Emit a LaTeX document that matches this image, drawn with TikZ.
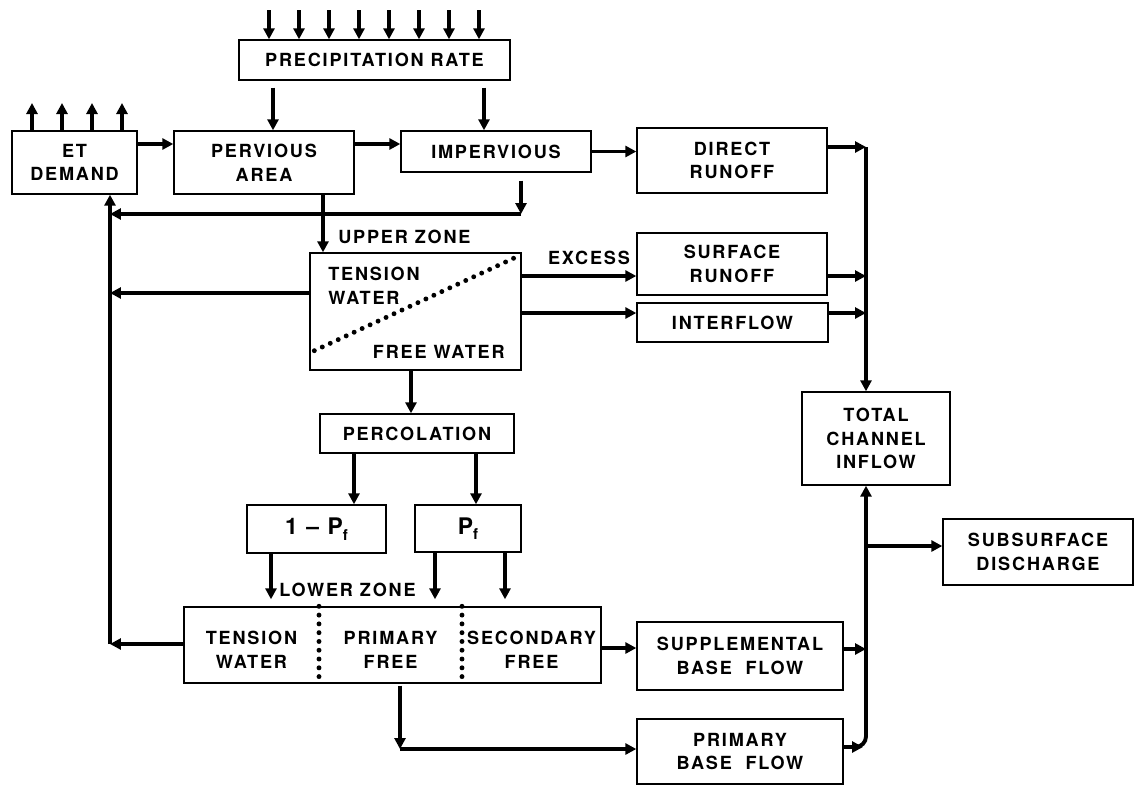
\documentclass[tikz,border=0pt]{standalone}
\usepackage{fontspec}
\setmainfont{TeX Gyre Heros}[LetterSpace=10]
\usetikzlibrary{arrows.meta,calc}

\newcommand{\lowf}{\raisebox{-0.45ex}{\fontsize{8.5}{9}\selectfont f}}

\tikzset{
  blk/.style={draw, line width=0.8pt, inner sep=0pt, align=center,
    font=\bfseries\fontsize{10.3}{13.5}\selectfont},
  lbl/.style={inner sep=0pt, align=center, font=\bfseries\fontsize{10.3}{13.5}\selectfont},
  flow/.style={line width=2.2pt, -{Triangle[length=2.2mm,width=2.2mm]}},
  dots/.style={line width=2.8pt, line cap=round, dash pattern=on 0pt off 5pt}
}

\begin{document}
\begin{tikzpicture}[x=0.02cm,y=-0.02cm]
  \useasboundingbox (0,0) rectangle (1135,785);

  % boxes
  \node[blk, minimum width=5.42cm, minimum height=0.8cm] (precip) at (374.5,60) {PRECIPITATION RATE};
  \node[blk, minimum width=2.5cm, minimum height=1.26cm] (et) at (74.5,162.5) {ET\\DEMAND};
  \node[blk, minimum width=3.6cm, minimum height=1.26cm] (perv) at (264,162.5) {PERVIOUS\\AREA};
  \node[blk, minimum width=3.8cm, minimum height=0.82cm] (imp) at (496,151.5) {IMPERVIOUS};
  \node[blk, minimum width=3.8cm, minimum height=1.3cm] (direct) at (732,160.5) {DIRECT\\RUNOFF};
  \node[blk, minimum width=4.22cm, minimum height=2.34cm] (upper) at (415.5,311.5) {};
  \node[blk, minimum width=3.8cm, minimum height=1.24cm] (surf) at (732,264) {SURFACE\\RUNOFF};
  \node[blk, minimum width=3.82cm, minimum height=0.78cm] (inter) at (732.5,322.5) {INTERFLOW};
  \node[blk, minimum width=3.88cm, minimum height=0.78cm] (perc) at (417,433.5) {PERCOLATION};
  \node[blk, minimum width=2.78cm, minimum height=0.96cm, font=\bfseries\fontsize{13}{15}\selectfont] (onemp) at (316.5,529) {1 – P\lowf};
  \node[blk, minimum width=2.12cm, minimum height=0.94cm, font=\bfseries\fontsize{13}{15}\selectfont] (pf) at (468,528.5) {P\lowf};
  \node[blk, minimum width=8.34cm, minimum height=1.52cm] (lower) at (392.5,645) {};
  \node[blk, minimum width=2.96cm, minimum height=1.86cm] (tci) at (876,438.5) {TOTAL\\CHANNEL\\INFLOW};
  \node[blk, minimum width=3.8cm, minimum height=1.32cm] (subs) at (1038,552) {SUBSURFACE\\DISCHARGE};
  \node[blk, minimum width=4.12cm, minimum height=1.36cm] (supp) at (740,656) {SUPPLEMENTAL\\BASE~~FLOW};
  \node[blk, minimum width=4.12cm, minimum height=1.3cm] (pbase) at (740,751.5) {PRIMARY\\BASE~~FLOW};

  % zone texts
  \node[lbl, align=left] (uztw) at (374,286) {TENSION\\WATER};
  \node[lbl, anchor=east] (uzfw) at (505,352) {FREE WATER};
  \draw[dots] ($(upper.south west)+(5,-20)$) -- ($(upper.north east)+(-6,5)$);
  \node[lbl] (lztw) at (251.5,650) {TENSION\\WATER};
  \node[lbl] (lzpf) at (390.5,650) {PRIMARY\\FREE};
  \node[lbl] (lzsf) at (531.5,650) {SECONDARY\\FREE};
  \draw[dots] (319,0 |- lower.north) -- (319,0 |- lower.south);
  \draw[dots] (462,0 |- lower.north) -- (462,0 |- lower.south);
  \node[lbl, anchor=west] (uzlab) at (338,237) {UPPER ZONE};
  \node[lbl, anchor=west] (lzlab) at (279,590) {LOWER ZONE};
  \node[lbl] (exlab) at (589,258) {EXCESS};

  % junctions
  \coordinate (etline) at (110,644);
  \coordinate (ret) at (521,214);
  \coordinate (busa) at (866,147);
  \coordinate (busb) at (866,747);
  \coordinate (pbturn) at (400,749);

  % rain and evaporation
  \foreach \x in {269,299,...,480}
    \draw[flow] (\x,10) -- (\x,0 |- precip.north);
  \foreach \x in {32,62,92,122}
    \draw[flow] (\x,0 |- et.north) -- (\x,103);

  % top row
  \draw[flow] ($(precip.south -| 273,0)+(0,7)$) -- (273,0 |- perv.north);
  \draw[flow] ($(precip.south -| 484,0)+(0,7)$) -- (484,0 |- imp.north);
  \draw[flow] (et.east |- 0,144) -- (perv.west |- 0,144);
  \draw[flow] (perv.east |- 0,144) -- (imp.west |- 0,144);
  \draw[flow] (imp.east) -- (imp.east -| direct.west);
  \draw[flow] ($(imp.south -| ret)+(0,8)$) -- (ret);
  \draw[flow] (ret) -- (ret -| etline);

  % upper zone
  \draw[flow] (perv.south -| 323,0) -- (upper.north -| 323,0);
  \draw[flow] (upper.west |- 0,293) -- (etline |- 0,293);
  \draw[flow] (upper.east |- 0,276) -- (surf.west |- 0,276);
  \draw[flow] (upper.east |- 0,313) -- (inter.west |- 0,313);
  \draw[flow] (upper.south -| 411,0) -- (perc.north -| 411,0);

  % percolation split
  \draw[flow] (perc.south -| 354,0) -- (onemp.north -| 354,0);
  \draw[flow] (perc.south -| 476,0) -- (pf.north -| 476,0);
  \draw[flow] (onemp.south -| 271,0) -- ($(lower.north -| 271,0)+(0,-7)$);
  \draw[flow] (pf.south -| 435,0) -- ($(lower.north -| 435,0)+(0,-7)$);
  \draw[flow] (pf.south -| 505,0) -- ($(lower.north -| 505,0)+(0,-7)$);

  % lower zone
  \draw[flow] (lower.west |- etline) -- (etline);
  \draw[flow] (etline) -- (etline |- et.south);
  \draw[flow] (lower.east |- 0,648) -- (supp.west |- 0,648);
  \draw[flow] ($(lower.south -| pbturn)+(0,2)$) -- (pbturn);
  \draw[flow] (pbturn) -- (pbturn -| pbase.west);

  % channel inflow
  \draw[flow] (direct.east |- busa) -- (busa);
  \draw[flow] (busa) -- (busa |- tci.north);
  \draw[flow] (surf.east |- 0,276) -- (busa |- 0,276);
  \draw[flow] (inter.east |- 0,313) -- (busa |- 0,313);
  \draw[flow] (supp.east |- 0,649) -- (busb |- 0,649);
  \draw[flow] (pbase.east |- busb) -- ($(busb)+(-3,0)$);
  \draw[flow, rounded corners=6] ($(busb)+(-10,0)$) -- (busb) -- (busb |- tci.south);
  \draw[flow] (busb |- 0,546) -- (subs.west |- 0,546);
\end{tikzpicture}
\end{document}
